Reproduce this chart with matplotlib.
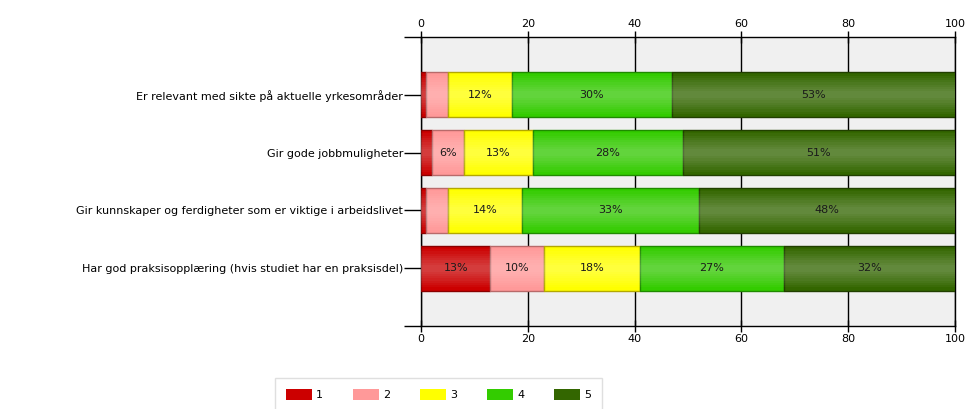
import numpy as np
import matplotlib.pyplot as plt

questions = ['Er relevant med sikte på aktuelle yrkesområder',
             'Gir gode jobbmuligheter',
             'Gir kunnskaper og ferdigheter som er viktige i arbeidslivet',
             'Har god praksisopplæring (hvis studiet har en praksisdel)']
levels = ['1', '2', '3', '4', '5']
pct_1 = [1, 2, 1, 13]
pct_2 = [4, 6, 4, 10]
pct_3 = [12, 13, 14, 18]
pct_4 = [30, 28, 33, 27]
pct_5 = [53, 51, 48, 32]
colors = ['#cc0000', '#ff9999', '#ffff00', '#33cc00', '#336600']
edges = ['#8a0000', '#b86a6a', '#b3a800', '#1f8a00', '#213f00']

series = [pct_1, pct_2, pct_3, pct_4, pct_5]

fig = plt.figure(figsize=(9.73, 4.09), dpi=100)
ax = fig.add_axes([0.4327, 0.2029, 0.5488, 0.7066])
ax.set_facecolor('#f0f0f0')

y = np.arange(1, len(questions) + 1)
h = 0.78
left = np.zeros(len(questions))
for vals, c, ec, lab in zip(series, colors, edges, levels):
    vals = np.array(vals, dtype=float)
    ax.barh(y, vals, height=h, left=left, color=c, edgecolor=ec, linewidth=1, label=lab, zorder=3)
    # soft highlight to mimic the gradient of the original
    for k in np.linspace(0.85, 0.15, 8):
        ax.barh(y, vals, height=h * k, left=left, color='white', alpha=0.035, linewidth=0, zorder=4)
    for yi, l, v in zip(y, left, vals):
        if v >= 5:
            ax.text(l + v / 2, yi, f'{int(v)}%', ha='center', va='center', fontsize=8,
                    color='#1a1a1a', zorder=5)
    left += vals

ax.set_xlim(0, 100)
ax.set_ylim(5, 0)
ax.set_xticks([0, 20, 40, 60, 80, 100])
ax.xaxis.grid(True, color='black', linewidth=1, zorder=1)
ax.tick_params(axis='x', top=True, labeltop=True, bottom=True, labelbottom=True,
               direction='inout', length=8, width=1, labelsize=8, pad=2)
ax.set_yticks(y)
ax.set_yticks([0, 5], minor=True)
ax.set_yticklabels(questions)
ax.tick_params(axis='y', which='both', direction='out', length=12, width=1, labelsize=8, pad=1)
for s in ax.spines.values():
    s.set_color('black')
    s.set_linewidth(1)
    s.set_zorder(2)

leg = fig.legend(loc='upper left', bbox_to_anchor=(275 / 973, 1 - 378 / 409), ncol=5,
                 fontsize=8, frameon=True, fancybox=False, shadow=False,
                 handlelength=2.3, handleheight=1.1, columnspacing=2.7, handletextpad=0.4,
                 borderpad=1.0, borderaxespad=0)
leg.get_frame().set_edgecolor('#d8d8d8')
for hnd in leg.legend_handles:
    hnd.set_linewidth(0)

fig.savefig('out.png', dpi=100)
